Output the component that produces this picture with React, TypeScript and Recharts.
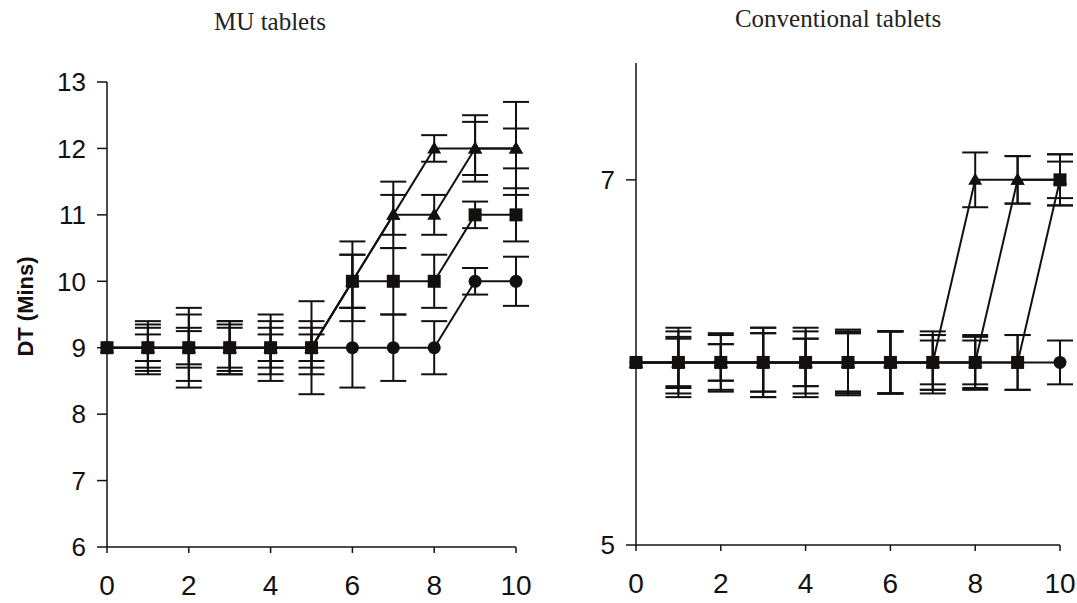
import { ErrorBar, Line, LineChart, XAxis, YAxis } from "recharts";

const minutes = [0, 1, 2, 3, 4, 5, 6, 7, 8, 9, 10];
const xTicks = [0, 2, 4, 6, 8, 10];

// MU tablets
const muTicks = [6, 7, 8, 9, 10, 11, 12, 13];
const muTriFast = [9, 9, 9, 9, 9, 9, 10, 11, 12, 12, 12];
const muTriSlow = [9, 9, 9, 9, 9, 9, 10, 11, 11, 12, 12];
const muSquare = [9, 9, 9, 9, 9, 9, 10, 10, 10, 11, 11];
const muCircle = [9, 9, 9, 9, 9, 9, 9, 9, 9, 10, 10];
const muTriFastErr = [0, 0.4, 0.6, 0.4, 0.5, 0.7, 0.6, 0.5, 0.2, 0.5, 0.7];
const muTriSlowErr = [0, 0.3, 0.3, 0.3, 0.3, 0.3, 0.4, 0.3, 0.3, 0.4, 0.3];
const muSquareErr = [0, 0.2, 0.25, 0.35, 0.2, 0.2, 0.4, 0.5, 0.4, 0.2, 0.4];
const muCircleErr = [0, 0.35, 0.5, 0.4, 0.4, 0.4, 0.6, 0.5, 0.4, 0.2, 0.37];

// Conventional tablets
const convTicks = [5, 7];
const convTriFast = [6, 6, 6, 6, 6, 6, 6, 6, 7, 7, 7];
const convTriSlow = [6, 6, 6, 6, 6, 6, 6, 6, 6, 7, 7];
const convSquare = [6, 6, 6, 6, 6, 6, 6, 6, 6, 6, 7];
const convCircle = [6, 6, 6, 6, 6, 6, 6, 6, 6, 6, 6];
const convTriFastErr = [0, 0.19, 0.16, 0.19, 0.19, 0.18, 0.17, 0.17, 0.15, 0.13, 0.14];
const convTriSlowErr = [0, 0.14, 0.1, 0.16, 0.13, 0.16, 0.17, 0.15, 0.15, 0.13, 0.1];
const convSquareErr = [0, 0.13, 0.1, 0.16, 0.13, 0.16, 0.17, 0.12, 0.14, 0.15, 0.14];
const convCircleErr = [0, 0.17, 0.15, 0.19, 0.17, 0.17, 0.17, 0.15, 0.12, 0.15, 0.12];

const INK = "#141010";

const muData = minutes.map((m, i) => ({
  minute: m,
  triFast: muTriFast[i],
  triSlow: muTriSlow[i],
  square: muSquare[i],
  circle: muCircle[i],
  triFastErr: muTriFastErr[i],
  triSlowErr: muTriSlowErr[i],
  squareErr: muSquareErr[i],
  circleErr: muCircleErr[i],
}));

const convData = minutes.map((m, i) => ({
  minute: m,
  triFast: convTriFast[i],
  triSlow: convTriSlow[i],
  square: convSquare[i],
  circle: convCircle[i],
  triFastErr: convTriFastErr[i],
  triSlowErr: convTriSlowErr[i],
  squareErr: convSquareErr[i],
  circleErr: convCircleErr[i],
}));

const squareDot = (p: any) => (
  <rect key={`sq-${p.index}`} x={p.cx - 6.5} y={p.cy - 6.5} width={13} height={13} fill={INK} />
);
const triangleDot = (p: any) => (
  <path
    key={`tr-${p.dataKey}-${p.index}`}
    d={`M${p.cx},${p.cy - 7} L${p.cx + 7},${p.cy + 5} L${p.cx - 7},${p.cy + 5} Z`}
    fill={INK}
  />
);
const circleDot = (p: any) => <circle key={`ci-${p.index}`} cx={p.cx} cy={p.cy} r={6.5} fill={INK} />;

const tickFont = { fontFamily: "'Liberation Sans', Arial, sans-serif", fill: INK };

function Series({ data, domain, ticks, width, yWidth, top, right, xHeight, yLabel }: any) {
  return (
    <LineChart
      width={width}
      height={603}
      data={data}
      margin={{ top, right, bottom: 0, left: 0 }}
    >
      <XAxis
        type="number"
        dataKey="minute"
        domain={[0, 10]}
        ticks={xTicks}
        tickSize={6}
        tickMargin={22}
        height={xHeight}
        stroke={INK}
        strokeWidth={1.5}
        tick={{ ...tickFont, fontSize: 28 }}
      />
      <YAxis
        type="number"
        domain={domain}
        ticks={ticks}
        allowDataOverflow
        width={yWidth}
        tickSize={10}
        tickMargin={11}
        stroke={INK}
        strokeWidth={1.5}
        tick={{ ...tickFont, fontSize: 26 }}
        label={
          yLabel
            ? (props: any) => {
                const vb = props.viewBox;
                const cx = vb.x + 25;
                const cy = vb.y + vb.height / 2 - 8;
                return (
                  <text
                    x={cx}
                    y={cy}
                    transform={`rotate(-90, ${cx}, ${cy})`}
                    textAnchor="middle"
                    dominantBaseline="central"
                    fontFamily="'Liberation Sans', Arial, sans-serif"
                    fontWeight="bold"
                    fontSize={22}
                    fill={INK}
                  >
                    {yLabel}
                  </text>
                );
              }
            : undefined
        }
      />
      <Line dataKey="circle" stroke={INK} strokeWidth={2} dot={circleDot} isAnimationActive={false}>
        <ErrorBar dataKey="circleErr" direction="y" width={13} stroke={INK} strokeWidth={2} />
      </Line>
      <Line dataKey="triFast" stroke={INK} strokeWidth={2} dot={triangleDot} isAnimationActive={false}>
        <ErrorBar dataKey="triFastErr" direction="y" width={13} stroke={INK} strokeWidth={2} />
      </Line>
      <Line dataKey="triSlow" stroke={INK} strokeWidth={2} dot={triangleDot} isAnimationActive={false}>
        <ErrorBar dataKey="triSlowErr" direction="y" width={13} stroke={INK} strokeWidth={2} />
      </Line>
      <Line dataKey="square" stroke={INK} strokeWidth={2} dot={squareDot} isAnimationActive={false}>
        <ErrorBar dataKey="squareErr" direction="y" width={13} stroke={INK} strokeWidth={2} />
      </Line>
    </LineChart>
  );
}

const titleStyle = {
  position: "absolute" as const,
  fontFamily: "'Liberation Serif', 'Times New Roman', serif",
  fontSize: 25,
  color: "#222",
  textAlign: "center" as const,
  whiteSpace: "nowrap" as const,
};

export default function App() {
  return (
    <div style={{ position: "absolute", left: 0, top: 0, width: 1077, height: 603, background: "#fff" }}>
      <div style={{ ...titleStyle, left: 160, width: 220, top: 8 }}>MU tablets</div>
      <div style={{ ...titleStyle, left: 678, width: 320, top: 5 }}>Conventional tablets</div>
      <div style={{ position: "absolute", left: 0, top: 0 }}>
        <Series
          data={muData}
          domain={[6, 13]}
          ticks={muTicks}
          width={540}
          yWidth={107}
          top={82}
          right={24}
          xHeight={56}
          yLabel="DT (Mins)"
        />
      </div>
      <div style={{ position: "absolute", left: 560, top: 0 }}>
        <Series
          data={convData}
          domain={[5, 7.64]}
          ticks={convTicks}
          width={517}
          yWidth={76}
          top={63}
          right={17}
          xHeight={58}
        />
      </div>
    </div>
  );
}
